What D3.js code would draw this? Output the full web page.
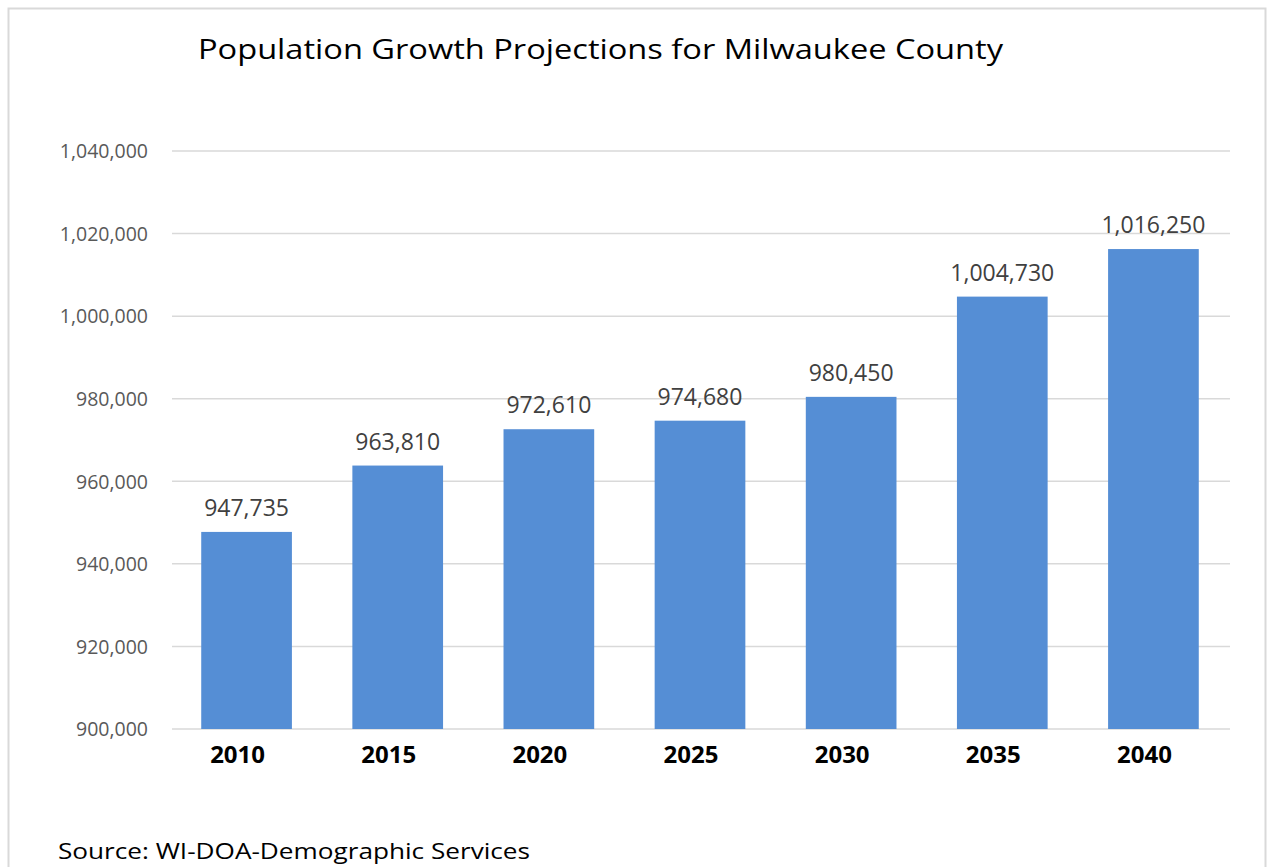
<!DOCTYPE html>
<html><head><meta charset="utf-8">
<script src="https://cdn.jsdelivr.net/npm/d3@7"></script>
<style>body{margin:0;background:#fff;}svg{display:block;}</style>
</head><body>
<svg id="c" width="1274" height="867"></svg>
<script>
const years = ["2010","2015","2020","2025","2030","2035","2040"];
const population = [947735, 963810, 972610, 974680, 980450, 1004730, 1016250];
const yTicks = [900000, 920000, 940000, 960000, 980000, 1000000, 1020000, 1040000];
const titleText = "Population Growth Projections for Milwaukee County";
const sourceText = "Source: WI-DOA-Demographic Services";

const svg = d3.select("#c");
const font = "'Open Sans', 'Noto Sans', sans-serif";
svg.append("rect").attr("x",8.5).attr("y",8.5).attr("width",1257).attr("height",880)
  .attr("fill","#fff").attr("stroke","#d9d9d9").attr("stroke-width",2);

const x = d3.scaleBand().domain(years).range([171,1229]).paddingInner(0.4).paddingOuter(0.2);
const y = d3.scaleLinear().domain([900000,1040000]).range([729,151]);
const fmt = d3.format(",");

svg.append("g").selectAll("line").data(yTicks).join("line")
  .attr("x1",172).attr("x2",1230).attr("y1",d=>y(d)).attr("y2",d=>y(d))
  .attr("stroke","#d9d9d9").attr("stroke-width",1.5);

const yAxis = d3.axisLeft(y).tickValues(yTicks).tickFormat(fmt).tickSize(0).tickPadding(0);
const ga = svg.append("g").attr("transform","translate(148,0)").call(yAxis);
ga.select(".domain").remove();
ga.selectAll("text").attr("font-family",font).attr("font-size",19.5).attr("fill","#595959").attr("dy","0.35em");

svg.append("g").selectAll("rect").data(population).join("rect")
  .attr("x",(d,i)=>x(years[i])).attr("width",x.bandwidth())
  .attr("y",d=>y(d)).attr("height",d=>y(900000)-y(d)).attr("fill","#558ed5");

svg.append("g").selectAll("text").data(population).join("text")
  .attr("x",(d,i)=>x(years[i])+x.bandwidth()/2).attr("y",d=>y(d)-16)
  .attr("text-anchor","middle").attr("font-family",font).attr("font-size",23)
  .attr("fill","#404040").text(d=>fmt(d));

const xAxis = d3.axisBottom(x).tickSize(0).tickPadding(0);
const gx = svg.append("g").attr("transform","translate(0,729)").call(xAxis);
gx.select(".domain").remove();
gx.selectAll("text").attr("font-family","'Open Sans', sans-serif").attr("font-weight","bold")
  .attr("font-size",24).attr("fill","#000").attr("dy",0).attr("y",34).attr("dx",-9);

svg.append("text").attr("x",198).attr("y",59).attr("font-family",font).attr("font-size",28)
  .attr("fill","#000").attr("textLength",805).attr("lengthAdjust","spacingAndGlyphs").text(titleText);

svg.append("text").attr("x",58).attr("y",859).attr("font-family",font).attr("font-size",22.5)
  .attr("fill","#000").attr("textLength",472).attr("lengthAdjust","spacingAndGlyphs").text(sourceText);
</script>
</body></html>
